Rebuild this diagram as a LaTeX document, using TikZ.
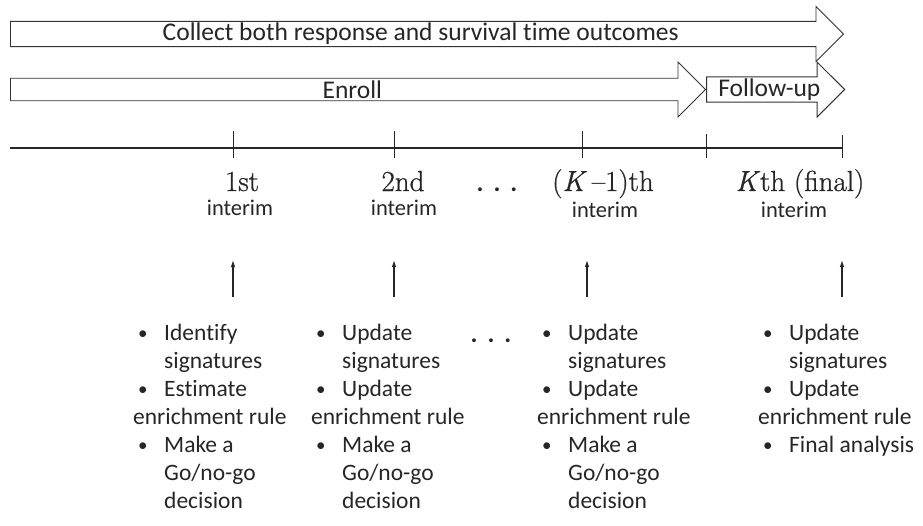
\documentclass[tikz,border=0pt]{standalone}
\usepackage{fontspec}
\setsansfont{Carlito}[RawFeature={-liga;-clig;-dlig}]
\newfontfamily\numfont{Latin Modern Roman}[FakeBold=0.8, ItalicFeatures={FakeBold=0.8}]
\usepackage{tikz}
\usetikzlibrary{shapes.arrows,calc,positioning,arrows.meta}

\newcommand{\bul}[1]{\hspace*{5pt}\makebox[26pt][l]{\raisebox{1pt}{\fontsize{19}{19}\selectfont\textbullet}}#1}
\newcommand{\ind}[1]{\hspace*{31pt}#1}

\begin{document}
\begin{tikzpicture}[x=1pt, y=-1pt]
        \tikzset{>={Latex[length=7pt,width=4.5pt]}}
        \tikzstyle{band} = [single arrow, draw=black!80, line width=0.9pt, fill=white, anchor=west, inner sep=0pt, minimum width=55pt, single arrow head extend=13.5pt, text=black!85, font=\sffamily\fontsize{25.5}{28}\selectfont]
        \tikzstyle{num} = [anchor=base, inner sep=0pt, text=black!85, font=\numfont\fontsize{29}{32}\selectfont]
        \tikzstyle{sub} = [anchor=base, inner sep=0pt, text=black!85, font=\sffamily\fontsize{22.5}{26}\selectfont]
        \tikzstyle{todo} = [anchor=north west, align=left, inner sep=0pt, text=black!85, font=\sffamily\fontsize{23.5}{28}\selectfont]
        \tikzstyle{gap} = [anchor=base, inner sep=0pt, text=black!85, font=\sffamily\bfseries\fontsize{26}{30}\selectfont]
        \tikzstyle{arr} = [line width=1.1pt, draw=black!85, ->]
        \tikzstyle{tick} = [line width=1pt, draw=black!85]
        \useasboundingbox (0,0) rectangle (923,525);

        % bands
        \node [band, minimum height=833pt] (collect) at (10,34) {Collect both response and survival time outcomes};
        \node [band, minimum height=695pt] (enroll) at (10,89.5) {Enroll};
        \node [band, minimum height=138pt] (follow) at (enroll.tip) {Follow-up};

        % timeline
        \coordinate (tl0) at (10,148);
        \coordinate (tl1) at (843,148);
        \draw [tick, line width=1.3pt] (tl0) -- (tl1);
        \foreach \x/\y in {233/131, 394/131, 582/131, 706/134, 842/135}
            \draw [tick] (\x,\y) -- (\x,158);

        % interim labels
        \node [num] (first) at (242,191) {1st};
        \node [num] (second) at (403,191) {2nd};
        \node [gap] (dotsA) at (497,191) {.\hspace{10pt}.\hspace{10pt}.};
        \node [num] (prelast) at (603,191) {(\textit{K}\,\textendash1)th};
        \node [num] (last) at (800,191) {\textit{K}th (final)};
        \node [sub] (firstI) at (240,215) {interim};
        \node [sub] (secondI) at (404,215) {interim};
        \node [sub] (prelastI) at (605,217) {interim};
        \node [sub] (lastI) at (794,217) {interim};

        % arrows
        \foreach \x [count=\i] in {233,394,587,842} {
            \coordinate (up\i s) at (\x,297);
            \coordinate (up\i e) at (\x,260);
            \draw [arr] (up\i s) -- (up\i e);
        }

        % tasks
        \node [todo] (firstT) at (133,324) {\bul{Identify}\\ \ind{signatures}\\ \bul{Estimate}\\ enrichment rule\\ \bul{Make a}\\ \ind{Go/no-go}\\ \ind{decision}};
        \node [todo] (secondT) at (311,324) {\bul{Update}\\ \ind{signatures}\\ \bul{Update}\\ enrichment rule\\ \bul{Make a}\\ \ind{Go/no-go}\\ \ind{decision}};
        \node [gap] (dotsB) at (491,342) {.\hspace{10pt}.\hspace{10pt}.};
        \node [todo] (prelastT) at (537,324) {\bul{Update}\\ \ind{signatures}\\ \bul{Update}\\ enrichment rule\\ \bul{Make a}\\ \ind{Go/no-go}\\ \ind{decision}};
        \node [todo] (lastT) at (758,324) {\bul{Update}\\ \ind{signatures}\\ \bul{Update}\\ enrichment rule\\ \bul{Final analysis}};
\end{tikzpicture}
\end{document}
